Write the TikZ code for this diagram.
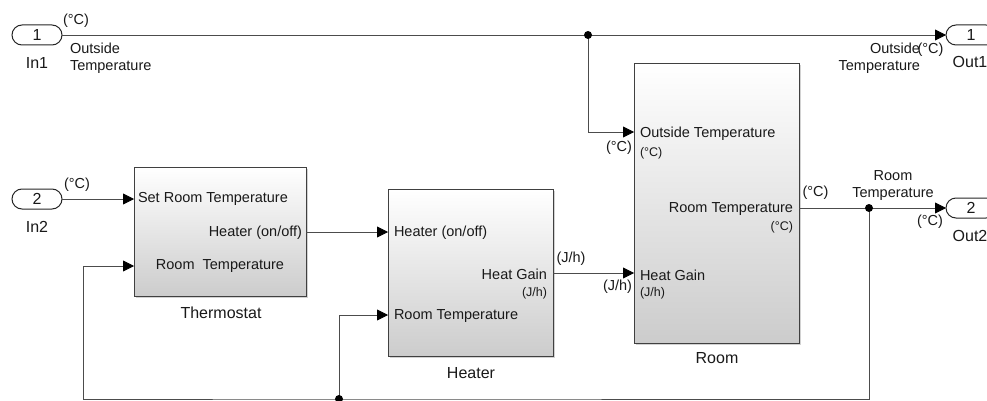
\documentclass[tikz,border=0pt]{standalone}
\usepackage{fontspec}
\setmainfont{Liberation Sans}
\usetikzlibrary{arrows.meta,shadows,shapes.misc}
\begin{document}
\begin{tikzpicture}[x=1pt,y=-1pt,
  every node/.style={inner sep=0pt,outer sep=0pt,text=black!90},
  lbl/.style={font=\fontsize{14.5}{17}\selectfont},
  sml/.style={font=\fontsize{12.5}{15}\selectfont},
  bname/.style={font=\fontsize{16}{19}\selectfont},
  blk/.style={draw=black!75,line width=1pt,top color=white,bottom color=black!20,
    drop shadow={shadow xshift=1.5pt,shadow yshift=-1.5pt,opacity=0.35}},
  port/.style={rounded rectangle,draw=black!85,line width=1pt,fill=white,
    minimum width=50pt,minimum height=20pt,font=\fontsize{16}{19}\selectfont},
  sig/.style={draw=black!70,line width=0.8pt,-{Triangle[length=11pt,width=11pt,color=black]}},
  jdot/.style={fill=black}
]
\clip (0,0) rectangle (987,401);
\fill[white] (0,0) rectangle (987,401);

% ports
\node[port] (in1) at (37,35) {1};
\node[port] (in2) at (37,199) {2};
\node[port] (out1) at (971,35) {1};
\node[port] (out2) at (971,208) {2};
\node[bname] (in1n) at (37,63) {In1};
\node[bname] (in2n) at (37,227) {In2};
\node[bname] (out1n) at (970,62) {Out1};
\node[bname] (out2n) at (970,236) {Out2};

% blocks
\node[blk,minimum width=172pt,minimum height=129pt] (thermo) at (220,232) {};
\node[blk,minimum width=165pt,minimum height=167pt] (heater) at (470.5,273) {};
\node[blk,minimum width=165pt,minimum height=279pt] (room) at (716.5,203.5) {};

% port coordinates
\coordinate (tI1) at (134,199);
\coordinate (tI2) at (134,266);
\coordinate (tO) at (306,232);
\coordinate (hI1) at (388,232);
\coordinate (hI2) at (388,315);
\coordinate (hO) at (553,273);
\coordinate (rI1) at (634,132);
\coordinate (rI2) at (634,273);
\coordinate (rO) at (799,208);
\coordinate (j1) at (588,35);
\coordinate (j2) at (869,208);
\coordinate (j3) at (339,399);
\coordinate (fbc) at (83,399);

% block labels
\node[lbl,anchor=west] (t1) at (138,199) {Set Room Temperature};
\node[lbl,anchor=east] (t2) at (302,233) {Heater (on/off)};
\node[lbl] (t3) at (220,266) {Room\ \ Temperature};
\node[bname] (tn) at (221,313) {Thermostat};

\node[lbl,anchor=west] (h1) at (394,233) {Heater (on/off)};
\node[lbl,anchor=east] (h2) at (547,274) {Heat Gain};
\node[sml,anchor=east] (h3) at (547,293) {(J/h)};
\node[lbl,anchor=west] (h4) at (394,316) {Room Temperature};
\node[bname] (hn) at (471,373) {Heater};

\node[lbl,anchor=west] (r1) at (640,134) {Outside Temperature};
\node[sml,anchor=west] (r2) at (640,153) {(°C)};
\node[lbl,anchor=east] (r3) at (793,209) {Room Temperature};
\node[sml,anchor=east] (r4) at (793,227) {(°C)};
\node[lbl,anchor=west] (r5) at (640,275) {Heat Gain};
\node[sml,anchor=west] (r6) at (640,293) {(J/h)};
\node[bname] (rn) at (717,358) {Room};

% signal labels
\node[lbl] (s1) at (76,21) {(°C)};
\node[lbl,anchor=west,align=left] (s2) at (70,58.5) {Outside\\Temperature};
\node[lbl,anchor=east,align=right] (s3) at (920,58.5) {Outside\\Temperature};
\node[lbl] (s4) at (930.5,50) {(°C)};
\node[lbl] (s5) at (77,185) {(°C)};
\node[lbl] (s6) at (571,259) {(J/h)};
\node[lbl,anchor=east] (s7) at (632,287) {(J/h)};
\node[lbl,anchor=east] (s8) at (632,148) {(°C)};
\node[lbl] (s9) at (815.5,193) {(°C)};
\node[lbl,align=center] (s10) at (893,186) {Room\\Temperature};
\node[lbl] (s11) at (930,222) {(°C)};

% connectors
\draw[sig] (in1.east) -- (out1.west);
\draw[sig] (j1) |- (rI1);
\draw[sig] (in2.east) -- (tI1);
\draw[sig] (tO) -- (hI1);
\draw[sig] (hO) -- (rI2);
\draw[sig] (rO) -- (out2.west);
\draw[sig] (j2) |- (j3) -- (fbc) |- (tI2);
\draw[sig] (j3) |- (hI2);

\fill[jdot] (j1) circle (4pt);
\fill[jdot] (j2) circle (4pt);
\fill[jdot] (j3) circle (4pt);
\end{tikzpicture}
\end{document}
